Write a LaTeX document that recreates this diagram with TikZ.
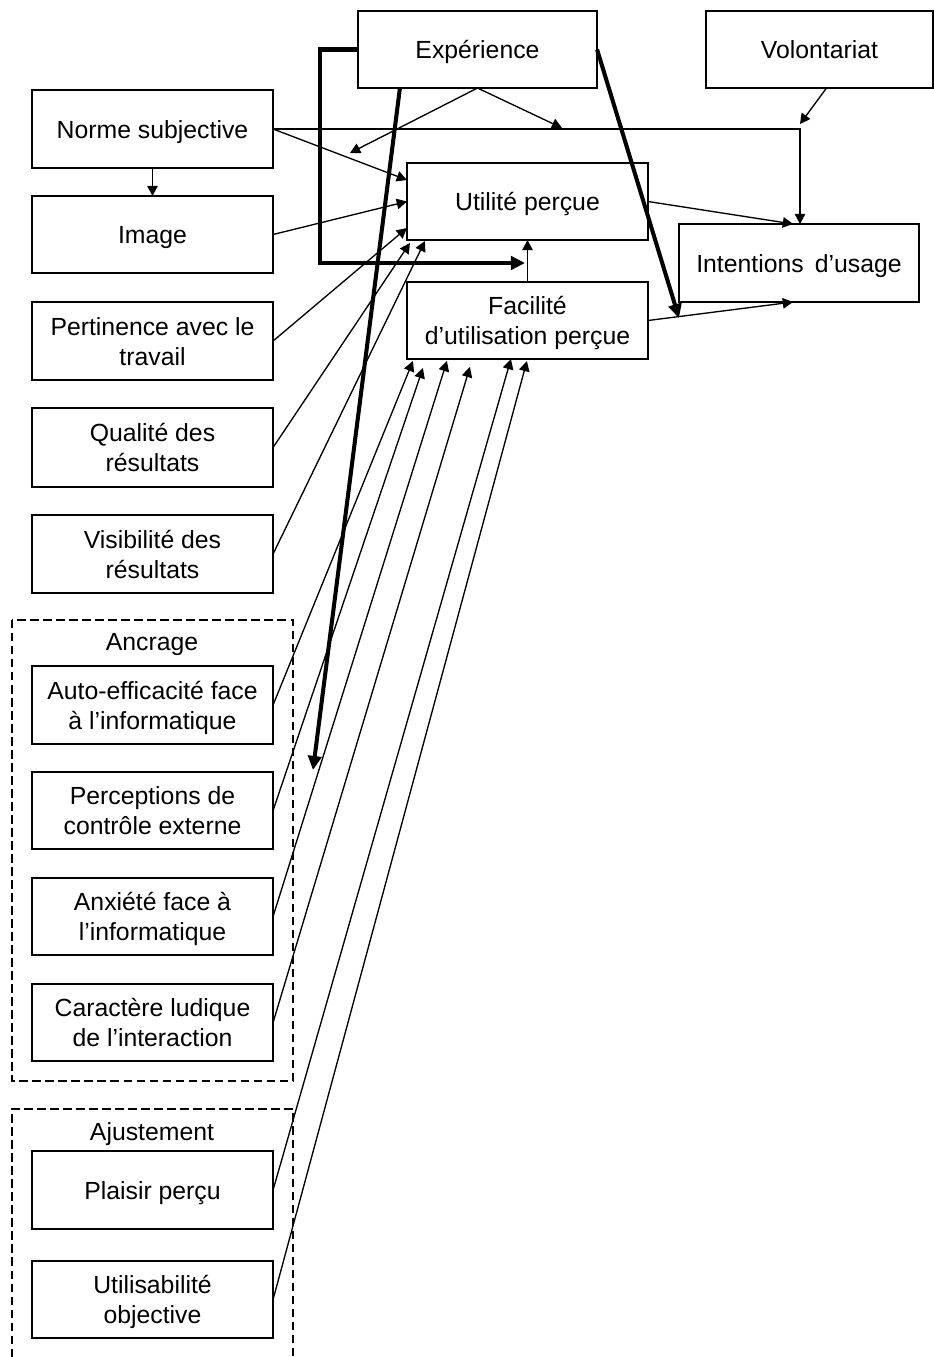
\documentclass[tikz,border=0pt]{standalone}
\usepackage{fontspec}
\setmainfont{Liberation Sans}
\usetikzlibrary{calc,arrows.meta}
\newcommand\bt[1]{\raisebox{-0.9pt}[\height][\depth]{\begin{tabular}{@{}c@{}}#1\end{tabular}}}
\begin{document}
\begin{tikzpicture}[x=0.01cm,y=-0.01cm,
  box/.style={draw, line width=0.43pt, minimum width=2.41cm, minimum height=0.78cm, inner sep=0pt, outer sep=0pt, font=\fontsize{7.05}{8.6}\selectfont},
  lbl/.style={inner sep=0pt, font=\fontsize{7.05}{8.6}\selectfont},
  arr/.style={line width=0.38pt, -{Triangle[length=2.9pt,width=3pt]}},
  thk/.style={line width=1.15pt, -{Triangle[length=4pt,width=3.8pt]}},
  grp/.style={line width=0.43pt, dash pattern=on 2.4pt off 1.3pt}]
\useasboundingbox (0,0) rectangle (934,1357);

% top row
\node[box, minimum width=2.39cm, minimum height=0.77cm] (exp) at (477.5,49.5) {\bt{Expérience}};
\node[box, minimum width=2.27cm, minimum height=0.77cm] (vol) at (819.5,49.5) {\bt{Volontariat}};
% centre
\node[box, minimum height=0.77cm] (util) at (527.5,201.5) {\bt{Utilité perçue}};
\node[box, minimum height=0.77cm] (fac) at (527.5,320.5) {\bt{Facilité\\d’utilisation perçue}};
\node[box, minimum width=2.40cm] (int) at (799,263) {\bt{Intentions\hspace{0.45em}d’usage}};
% left column
\node[box] (norme) at (152.5,129) {\bt{Norme subjective}};
\node[box, minimum height=0.77cm] (img) at (152.5,234.5) {\bt{Image}};
\node[box] (pert) at (152.5,341) {\bt{Pertinence avec le\\travail}};
\node[box, minimum height=0.79cm] (qual) at (152.5,447.5) {\bt{Qualité des\\résultats}};
\node[box] (vis) at (152.5,554) {\bt{Visibilité des\\résultats}};
\node[box] (auto) at (152.5,705) {\bt{Auto-efficacité face\\à l’informatique}};
\node[box, minimum height=0.77cm] (perc) at (152.5,810.5) {\bt{Perceptions de\\contrôle externe}};
\node[box, minimum height=0.77cm] (anx) at (152.5,916.5) {\bt{Anxiété face à\\l’informatique}};
\node[box, minimum height=0.77cm] (lud) at (152.5,1022.5) {\bt{Caractère ludique\\de l’interaction}};
\node[box] (plai) at (152.5,1190) {\bt{Plaisir perçu}};
\node[box, minimum height=0.77cm] (usab) at (152.5,1299.5) {\bt{Utilisabilité\\objective}};

% groups
\draw[grp] (12,620) rectangle (293,1081);
\node[lbl] (anc) at (152,645) {Ancrage};
\draw[grp] (12,1357) -- (12,1109) -- (293,1109) -- (293,1357);
\node[lbl] (aju) at (152,1134) {Ajustement};

% coordinates
\coordinate (corner) at (800,129);
\coordinate (m1) at (350,153);
\coordinate (m2) at (562,128);
\coordinate (k2) at (320,263);
\coordinate (k3) at (525,263);
\coordinate (k4) at (313,770);
\coordinate (k5) at (679,318);

% connectors
\draw[arr] (norme.south) -- (img.north);
\draw[arr] (norme.east) -- ($(util.west)+(0,-21.5)$);
\draw[arr] (norme.east) -- (corner) -- (int.north -| corner);
\draw[arr] ($(vol.south)+(7,0)$) -- ($(corner)+(0,-5)$);
\draw[arr] (exp.south) -- (m1);
\draw[arr] (exp.south) -- (m2);
\draw[arr] (img.east) -- (util.west);
\draw[arr] (pert.east) -- ($(util.west)+(0,26.5)$);
\draw[arr] (qual.east) -- ($(util.south west)+(3,3)$);
\draw[arr] (vis.east) -- ($(util.south west)+(18,1)$);
\draw[arr] (util.east) -- ($(int.north)+(-6,0)$);
\draw[arr] (fac.east) -- ($(int.south)+(-6,0)$);
\draw[arr] (fac.north) -- (util.south);

\draw[arr] (auto.east) -- ($(fac.south west)+(6,2)$);
\draw[arr] (perc.east) -- ($(fac.south west)+(16,9)$);
\draw[arr] (anx.east) -- ($(fac.south west)+(40,2)$);
\draw[arr] (lud.east) -- ($(fac.south west)+(63,8)$);
\draw[arr] (plai.east) -- ($(fac.south west)+(104,0)$);
\draw[arr] (usab.east) -- ($(fac.south west)+(120,2)$);

% thick moderator paths
\draw[thk] (exp.west) -| (k2) -- (k3);
\draw[thk] ($(exp.south west)+(42,0)$) -- (k4);
\draw[thk] (exp.east) -- (k5);
\end{tikzpicture}
\end{document}
